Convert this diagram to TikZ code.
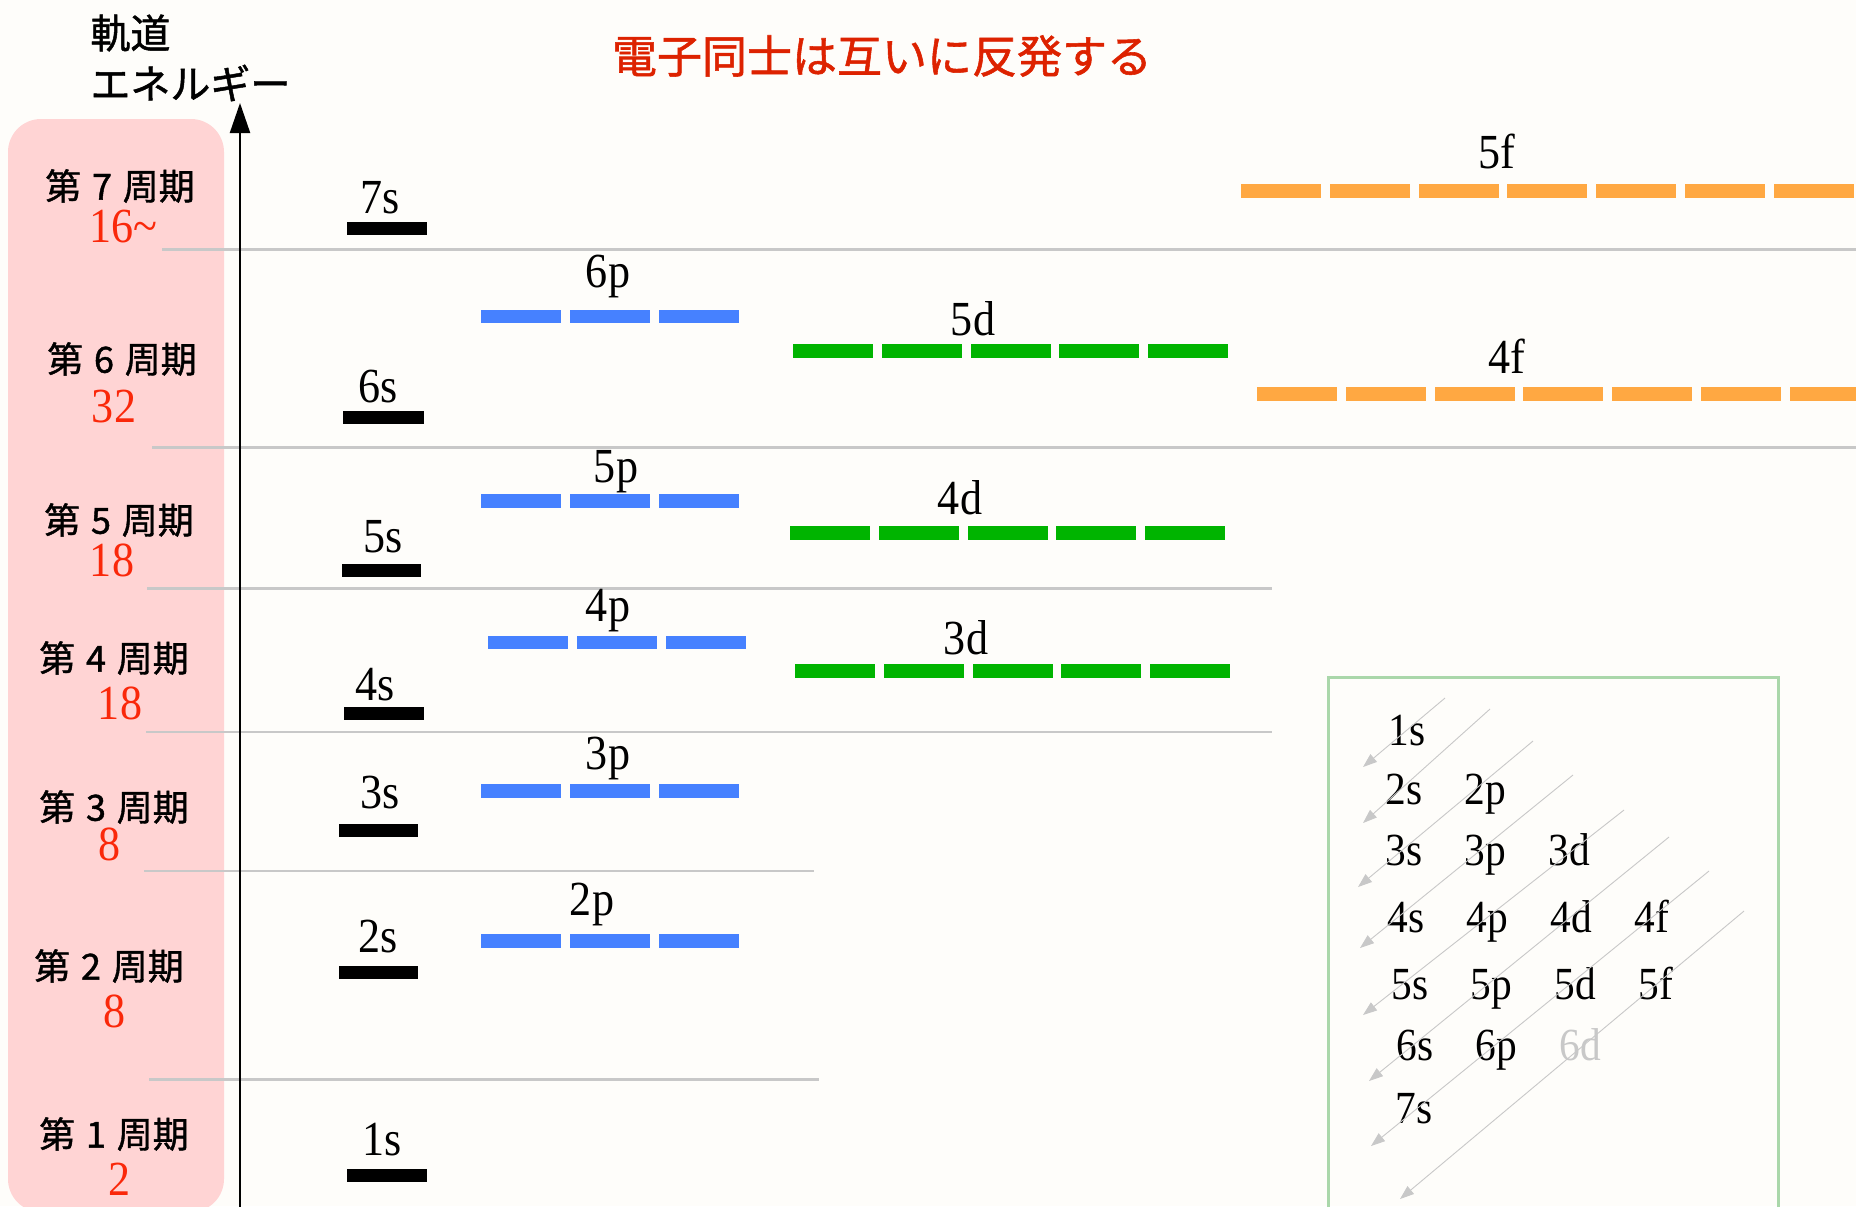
\documentclass[tikz,border=0pt]{standalone}
\usepackage{fontspec}
\newfontfamily\tms{Liberation Serif}[FakeStretch=0.9]
\newfontfamily\jp{Noto Sans CJK JP}
\newfontfamily\jpb{Noto Sans CJK JP}[FakeBold=1.2]
\usetikzlibrary{arrows.meta}
\definecolor{bg}{RGB}{254,253,250}
\definecolor{pinkbg}{RGB}{255,212,212}
\definecolor{gline}{RGB}{200,200,200}
\definecolor{pblue}{RGB}{70,129,255}
\definecolor{dgreen}{RGB}{0,180,0}
\definecolor{forange}{RGB}{255,168,66}
\definecolor{numred}{RGB}{250,40,10}
\definecolor{titlered}{RGB}{221,34,0}
\definecolor{boxgreen}{RGB}{170,215,170}
\definecolor{ltgray}{RGB}{200,200,200}
\tikzset{
  lvl/.style={font=\tms\fontsize{24.5}{28}\selectfont, anchor=base, inner sep=0pt},
  num/.style={font=\tms\fontsize{24.5}{28}\selectfont, text=numred, anchor=base, inner sep=0pt},
  per/.style={font=\jpb\fontsize{18}{22}\selectfont, anchor=center, inner sep=0pt},
  tbl/.style={font=\tms\fontsize{23}{27}\selectfont, anchor=base west, inner sep=0pt},
  jplabel/.style={font=\jpb\fontsize{20}{24}\selectfont, anchor=west, inner sep=0pt},
  period/.style={draw=gline, line width=1.1pt},
  diag/.style={draw=ltgray, line width=0.45pt, -{Triangle[length=7pt,width=5pt]}},
}
% #1 colour, #2 x0, #3 count, #4 ytop
\newcommand\orbrow[4]{%
  \foreach \i in {1,...,#3}{%
    \fill[#1] ({#2+(\i-1)*88.8},#4) rectangle +(80,13.5);
  }%
}
\begin{document}
\begin{tikzpicture}[x=0.5pt,y=-0.5pt]
\useasboundingbox (0,0) rectangle (1856,1206);
\clip (0,0) rectangle (1856,1206);
\fill[bg] (0,0) rectangle (1856,1206);

% pink period column
\fill[pinkbg, rounded corners=16.5pt] (8,119) rectangle (224,1212);

% period separators
\draw[period] (162,249.5) -- (1856,249.5);
\draw[period] (152,447.5) -- (1856,447.5);
\draw[period] (147,588.5) -- (1272,588.5);
\draw[period] (146,732) -- (1272,732);
\draw[period] (144,871) -- (814,871);
\draw[period] (149,1079.5) -- (819,1079.5);

% energy axis
\coordinate (axbot) at (240,1210);
\coordinate (axtop) at (240,103);
\draw[line width=1.1pt, -{Triangle[length=15pt,width=10pt]}] (axbot) -- (axtop);

% axis label and title
\node[jplabel] (ylab1) at (90,33) {軌道};
\node[jplabel] (ylab2) at (90,83) {エネルギー};
\node[font=\jpb\fontsize{22.5}{26}\selectfont, text=titlered, inner sep=0pt] (title) at (882,56) {電子同士は互いに反発する};

% period labels
\node[per] (p7) at (120,186) {第\hspace{0.3em}7\hspace{0.3em}周期};
\node[num] (n7) at (123,242) {16\textasciitilde};
\node[per] (p6) at (122,359) {第\hspace{0.3em}6\hspace{0.3em}周期};
\node[num] (n6) at (114,422) {32};
\node[per] (p5) at (119,520) {第\hspace{0.3em}5\hspace{0.3em}周期};
\node[num] (n5) at (112,576) {18};
\node[per] (p4) at (114,658) {第\hspace{0.3em}4\hspace{0.3em}周期};
\node[num] (n4) at (120,719) {18};
\node[per] (p3) at (114,807) {第\hspace{0.3em}3\hspace{0.3em}周期};
\node[num] (n3) at (110,860) {8};
\node[per] (p2) at (109,966) {第\hspace{0.3em}2\hspace{0.3em}周期};
\node[num] (n2) at (115,1027) {8};
\node[per] (p1) at (114,1134) {第\hspace{0.3em}1\hspace{0.3em}周期};
\node[num] (n1) at (120,1195) {2};

% s levels
\fill (347,222) rectangle (427,235);
\node[lvl] (l7s) at (380,213) {7s};
\fill (343,411) rectangle (424,424);
\node[lvl] (l6s) at (378,402) {6s};
\fill (342,564) rectangle (421,577);
\node[lvl] (l5s) at (383,552) {5s};
\fill (344,707) rectangle (424,720);
\node[lvl] (l4s) at (375,700) {4s};
\fill (339,824) rectangle (418,837);
\node[lvl] (l3s) at (380,808) {3s};
\fill (339,966) rectangle (418,979);
\node[lvl] (l2s) at (378,952) {2s};
\fill (347,1169) rectangle (427,1182);
\node[lvl] (l1s) at (382,1155) {1s};

% p levels
\orbrow{pblue}{481}{3}{309.5}
\node[lvl] (l6p) at (608,287) {6p};
\orbrow{pblue}{481}{3}{494}
\node[lvl] (l5p) at (616,482) {5p};
\orbrow{pblue}{488}{3}{635.5}
\node[lvl] (l4p) at (608,621) {4p};
\orbrow{pblue}{481}{3}{784}
\node[lvl] (l3p) at (608,769) {3p};
\orbrow{pblue}{481}{3}{934}
\node[lvl] (l2p) at (592,915) {2p};

% d levels
\orbrow{dgreen}{793}{5}{344}
\node[lvl] (l5d) at (973,335) {5d};
\orbrow{dgreen}{790}{5}{526}
\node[lvl] (l4d) at (960,514) {4d};
\orbrow{dgreen}{795}{5}{664}
\node[lvl] (l3d) at (966,654) {3d};

% f levels
\orbrow{forange}{1241}{7}{184}
\node[lvl] (l5f) at (1497,168) {5f};
\orbrow{forange}{1257}{7}{387}
\node[lvl] (l4f) at (1507,373) {4f};

% Madelung box
\draw[boxgreen, line width=1.5pt] (1328,1215) -- (1328,677) -- (1778,677) -- (1778,1215);

\node[tbl] (t1s) at (1388,745) {1s};
\node[tbl] (t2s) at (1385,804) {2s};
\node[tbl] (t2p) at (1464,804) {2p};
\node[tbl] (t3s) at (1385,865) {3s};
\node[tbl] (t3p) at (1464,865) {3p};
\node[tbl] (t3d) at (1548,865) {3d};
\node[tbl] (t4s) at (1387,932) {4s};
\node[tbl] (t4p) at (1466,932) {4p};
\node[tbl] (t4d) at (1550,932) {4d};
\node[tbl] (t4f) at (1634,932) {4f};
\node[tbl] (t5s) at (1391,999) {5s};
\node[tbl] (t5p) at (1470,999) {5p};
\node[tbl] (t5d) at (1554,999) {5d};
\node[tbl] (t5f) at (1638,999) {5f};
\node[tbl] (t6s) at (1396,1060) {6s};
\node[tbl] (t6p) at (1475,1060) {6p};
\node[tbl, text=ltgray] (t6d) at (1559,1060) {6d};
\node[tbl] (t7s) at (1395,1123) {7s};

% diagonal order arrows
\coordinate (a1s) at (1445,698);  \coordinate (a1e) at (1363,767);
\coordinate (a2s) at (1490,709);  \coordinate (a2e) at (1363,823);
\coordinate (a3s) at (1533,741);  \coordinate (a3e) at (1358,887);
\coordinate (a4s) at (1573,775);  \coordinate (a4e) at (1360,948);
\coordinate (a5s) at (1624,810);  \coordinate (a5e) at (1363,1015);
\coordinate (a6s) at (1669,837);  \coordinate (a6e) at (1369,1081);
\coordinate (a7s) at (1709,871);  \coordinate (a7e) at (1371,1146);
\coordinate (a8s) at (1744,911);  \coordinate (a8e) at (1400,1199);
\foreach \k in {1,...,8}{\draw[diag] (a\k s) -- (a\k e);}
\end{tikzpicture}
\end{document}
